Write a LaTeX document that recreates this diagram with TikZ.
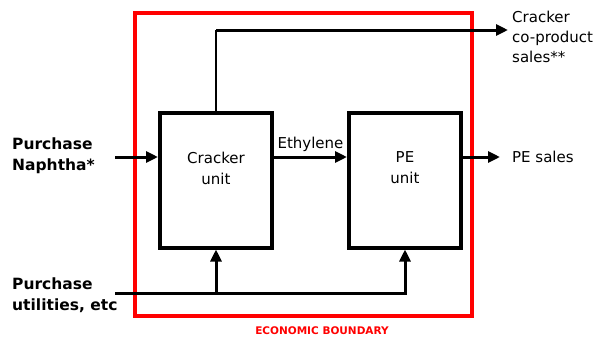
\documentclass[tikz,border=0pt]{standalone}
\usepackage{fontspec}
\setmainfont{DejaVu Sans}
\usetikzlibrary{arrows.meta,positioning}
\definecolor{ebred}{RGB}{255,0,0}

\begin{document}
\begin{tikzpicture}[x=1pt,y=-1pt,
      unit/.style={draw,line width=4pt,minimum width=112pt,minimum height=135pt,inner sep=0pt},
      boxtxt/.style={font=\fontsize{15}{21}\selectfont,align=center,inner sep=0pt,yshift=12pt},
      lbl/.style={font=\fontsize{15}{20}\selectfont,align=left,inner sep=0pt},
      buy/.style={font=\fontsize{15.5}{20.5}\selectfont\bfseries,align=left,inner sep=0pt},
      flow/.style={->,line width=3pt},
      >={Triangle[length=12pt,width=11pt]}]
    \useasboundingbox (0,0) rectangle (595,338);
    \draw[ebred,line width=3.3pt] (135,13) rectangle (472,316);
    \node[ebred,font=\fontsize{10.5}{12}\selectfont\bfseries] (bnd) at (322,331) {ECONOMIC BOUNDARY};
    \node[unit,label={[boxtxt]center:Cracker\\unit}] (crk) at (216,180) {};
    \node[unit,label={[boxtxt]center:PE\\unit}] (pe) at (405,180) {};
    \coordinate (naph) at (115,157);
    \coordinate (util) at (115,293);
    \coordinate (cp) at (508,30);
    \coordinate (pes) at (500,157);
    \node[buy,anchor=north west] (naphl) at (12,138) {Purchase\\Naphtha*};
    \node[buy,anchor=north west] (utill) at (12,278) {Purchase\\utilities, etc};
    \node[lbl,anchor=north west] (cpl) at (512,11) {Cracker\\co-product\\sales**};
    \node[lbl,anchor=west] (pesl) at (512,157) {PE sales};
    \draw[flow] (naph) -- (crk.west |- naph);
    \draw[flow] (crk.east |- naph) -- (pe.west |- naph) node[lbl,midway,above=4pt] (eth) {Ethylene};
    \draw[flow] (pe.east |- naph) -- (pes);
    \draw[line width=1.3pt] (crk.north) -- (crk.north |- cp);
    \draw[flow] (crk.north |- cp) -- (cp);
    \draw[flow] (util) -| (pe.south);
    \draw[flow] (crk.south |- util) -- (crk.south);
  \end{tikzpicture}
\end{document}
